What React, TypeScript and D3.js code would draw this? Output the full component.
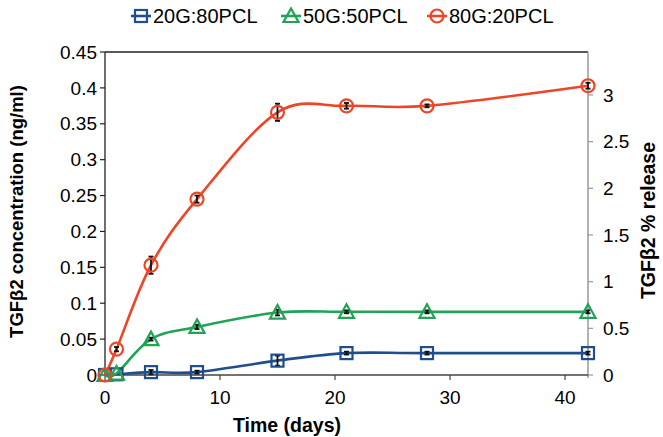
import React from "react";
import * as d3 from "d3";

const days = [0, 1, 4, 8, 15, 21, 28, 42];
const blueVals = [0, 0.001, 0.004, 0.004, 0.02, 0.0305, 0.0305, 0.0305];
const greenVals = [0, 0.002, 0.05, 0.067, 0.087, 0.088, 0.088, 0.088];
const redVals = [0, 0.036, 0.153, 0.245, 0.366, 0.375, 0.375, 0.403];
const blueErr = [0, 0, 0.003, 0.002, 0.007, 0.002, 0.002, 0.002];
const greenErr = [0, 0, 0.002, 0.003, 0.004, 0.002, 0.002, 0.002];
const redErr = [0, 0.003, 0.012, 0.005, 0.012, 0.004, 0.002, 0.004];
const seriesNames = ["20G:80PCL", "50G:50PCL", "80G:20PCL"];
const leftTicks = [0, 0.05, 0.1, 0.15, 0.2, 0.25, 0.3, 0.35, 0.4, 0.45];
const rightTicks = [0, 0.5, 1, 1.5, 2, 2.5, 3];
const xTicks = [0, 10, 20, 30, 40];

const W = 663, H = 437;
const L = 105, R = 588, T = 52, B = 375;
const FONT = "'Liberation Sans', Arial, sans-serif";

const colors = ["#1F4E8F", "#1FA356", "#EE4526"];
const markers = ["square", "triangle", "circle"];

function Marker({ type, cx, cy, color }: { type: string; cx: number; cy: number; color: string }) {
  if (type === "square")
    return <rect x={cx - 6} y={cy - 6} width={12} height={12} fill="none" stroke={color} strokeWidth={2.2} />;
  if (type === "triangle")
    return (
      <path
        d={`M${cx},${cy - 7.5}L${cx + 7.5},${cy + 6}L${cx - 7.5},${cy + 6}Z`}
        fill="none"
        stroke={color}
        strokeWidth={2.2}
      />
    );
  return <circle cx={cx} cy={cy} r={6.5} fill="none" stroke={color} strokeWidth={2.2} />;
}

export default function App() {
  const x = d3.scaleLinear().domain([0, 42]).range([L, R]);
  const y = d3.scaleLinear().domain([0, 0.45]).range([B, T]);
  const y2 = d3.scaleLinear().domain([0, 3.46]).range([B, T]);
  const line = d3
    .line<[number, number]>()
    .x((d) => x(d[0]))
    .y((d) => y(d[1]))
    .curve(d3.curveCardinal.tension(0));

  const series = [
    { vals: blueVals, err: blueErr },
    { vals: greenVals, err: greenErr },
    { vals: redVals, err: redErr },
  ];
  const legendX = [141, 291, 437];

  return (
    <svg
      width={W}
      height={H}
      style={{ position: "fixed", left: 0, top: 0, background: "#fff" }}
      fontFamily={FONT}
    >
      <rect width={W} height={H} fill="#fff" />
      {/* frame */}
      <line x1={L} x2={R} y1={T} y2={T} stroke="#222" strokeWidth={1.3} />
      <line x1={R} x2={R} y1={T} y2={B + 3} stroke="#999" strokeWidth={1.5} />
      <line x1={L} x2={L} y1={T} y2={B} stroke="#222" strokeWidth={1.3} />
      <line x1={L} x2={R} y1={B} y2={B} stroke="#444" strokeWidth={1.3} />
      {/* left ticks */}
      {leftTicks.map((t) => (
        <g key={"l" + t}>
          <line x1={L - 5} x2={L} y1={y(t)} y2={y(t)} stroke="#222" strokeWidth={1.2} />
          <text x={L - 8} y={y(t)} dy="0.35em" textAnchor="end" fontSize={19} fill="#000">
            {t}
          </text>
        </g>
      ))}
      {/* right ticks */}
      {rightTicks.map((t) => (
        <g key={"r" + t}>
          <line x1={R} x2={R + 5} y1={y2(t)} y2={y2(t)} stroke="#999" strokeWidth={1.2} />
          <text x={R + 15} y={y2(t)} dy="0.35em" textAnchor="start" fontSize={19} fill="#000">
            {t}
          </text>
        </g>
      ))}
      {/* x ticks */}
      {xTicks.map((t) => (
        <g key={"x" + t}>
          <line x1={x(t)} x2={x(t)} y1={B} y2={B + 5} stroke="#444" strokeWidth={1.2} />
          <text x={x(t)} y={397} dy="0.35em" textAnchor="middle" fontSize={19} fill="#000">
            {t}
          </text>
        </g>
      ))}
      {/* axis titles */}
      <text x={287} y={425} dy="0.35em" textAnchor="middle" fontSize={19.5} fontWeight="bold">
        Time (days)
      </text>
      <text
        transform={`translate(17,${(T + B) / 2 - 2}) rotate(-90)`}
        dy="0.35em"
        textAnchor="middle"
        fontSize={18.5}
        fontWeight="bold"
      >
        TGFβ2 concentration (ng/ml)
      </text>
      <text
        transform={`translate(648,${(T + B) / 2 + 7}) rotate(-90)`}
        dy="0.35em"
        textAnchor="middle"
        fontSize={19.5}
        fontWeight="bold"
      >
        TGFβ2 % release
      </text>
      {/* lines */}
      {series.map((s, i) => (
        <path
          key={"p" + i}
          d={line(days.map((d, j) => [d, s.vals[j]] as [number, number])) || ""}
          fill="none"
          stroke={colors[i]}
          strokeWidth={2.6}
        />
      ))}
      {/* error bars */}
      {series.map((s, i) =>
        days.map((d, j) =>
          s.err[j] > 0 ? (
            <g key={`e${i}-${j}`} stroke="#111" strokeWidth={1.8}>
              <line x1={x(d)} x2={x(d)} y1={y(s.vals[j] - s.err[j])} y2={y(s.vals[j] + s.err[j])} />
              <line x1={x(d) - 2.5} x2={x(d) + 2.5} y1={y(s.vals[j] - s.err[j])} y2={y(s.vals[j] - s.err[j])} />
              <line x1={x(d) - 2.5} x2={x(d) + 2.5} y1={y(s.vals[j] + s.err[j])} y2={y(s.vals[j] + s.err[j])} />
            </g>
          ) : null
        )
      )}
      {/* markers */}
      {series.map((s, i) =>
        days.map((d, j) => (
          <Marker key={`m${i}-${j}`} type={markers[i]} cx={x(d)} cy={y(s.vals[j])} color={colors[i]} />
        ))
      )}
      {/* legend */}
      {seriesNames.map((n, i) => (
        <g key={"lg" + i}>
          <line x1={legendX[i] - 10} x2={legendX[i] + 10} y1={16} y2={16} stroke={colors[i]} strokeWidth={2.6} />
          <Marker type={markers[i]} cx={legendX[i]} cy={16} color={colors[i]} />
          <text x={legendX[i] + 12} y={16} dy="0.35em" fontSize={20} fill="#000">
            {n}
          </text>
        </g>
      ))}
    </svg>
  );
}
